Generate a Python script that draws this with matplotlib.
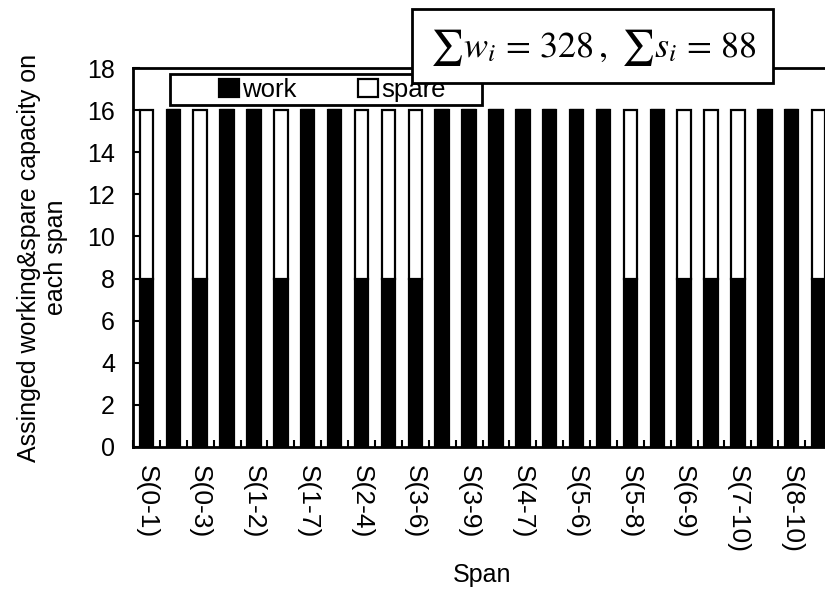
import matplotlib
matplotlib.use("Agg")
import matplotlib.pyplot as plt
from matplotlib.patches import Rectangle
import numpy as np

# Spans of the 11-node network, in the order they appear on the axis
spans = ["S(0-1)", "S(0-2)", "S(0-3)", "S(0-4)", "S(1-2)", "S(1-5)",
         "S(1-7)", "S(2-3)", "S(2-4)", "S(3-4)", "S(3-6)", "S(3-7)",
         "S(3-9)", "S(4-5)", "S(4-7)", "S(4-8)", "S(5-6)", "S(5-7)",
         "S(5-8)", "S(6-7)", "S(6-9)", "S(7-8)", "S(7-10)", "S(8-9)",
         "S(8-10)", "S(9-10)"]
# Assigned working and spare capacity per span
work = [8, 16, 8, 16, 16, 8, 16, 16, 8, 8, 8, 16, 16,
        16, 16, 16, 16, 16, 8, 16, 8, 8, 8, 16, 16, 8]
spare = [8, 0, 8, 0, 0, 8, 0, 0, 8, 8, 8, 0, 0,
         0, 0, 0, 0, 0, 8, 0, 8, 8, 8, 0, 0, 8]
yticks = [0, 2, 4, 6, 8, 10, 12, 14, 16, 18]

plt.rcParams["font.family"] = ["Liberation Sans", "DejaVu Sans"]
plt.rcParams["mathtext.fontset"] = "stix"

W, H = 825, 589
fig = plt.figure(figsize=(W / 100, H / 100), dpi=100)
ax = fig.add_axes([133 / W, 1 - 447 / H, 699 / W, 379 / H])

x = np.arange(len(spans))
lw = 1.6
b_work = ax.bar(x, work, width=0.5, color="black", edgecolor="black",
                linewidth=lw, label="work", zorder=2)
b_spare = ax.bar(x, spare, width=0.5, bottom=work, color="white",
                 edgecolor="black", linewidth=lw, label="spare", zorder=2)

ax.set_xlim(-0.5, len(spans) - 0.5)
ax.set_ylim(0, 18)
ax.set_yticks(yticks)
ax.tick_params(axis="y", direction="in", length=5, width=1.5, pad=13,
               labelsize=18)

# tick marks on category boundaries, labels on every other span
ax.set_xticks(np.arange(len(spans) + 1) - 0.5)
ax.set_xticklabels([])
ax.tick_params(axis="x", which="major", direction="in", length=5, width=1.5)
ax.set_xticks(x[::2], minor=True)
ax.set_xticklabels(spans[::2], minor=True, rotation=-90, fontsize=19,
                   va="top", ha="center")
ax.tick_params(axis="x", which="minor", length=0, pad=13)

for s in ax.spines.values():
    s.set_linewidth(2)

ax.set_xlabel("Span", fontsize=18, va="center")
ax.xaxis.set_label_coords(0.5, -0.338)
ax.set_ylabel("Assinged working&spare capacity on\neach span", fontsize=18,
              va="center", linespacing=1.15, multialignment="center")
ax.yaxis.set_label_coords(-0.13, 0.5)

# legend box and entries
ax.add_patch(Rectangle((170 / W, 1 - 105 / H), 312 / W, 31 / H,
                       transform=fig.transFigure, facecolor="white",
                       edgecolor="black", linewidth=2, clip_on=False,
                       zorder=4))
leg = ax.legend([b_work, b_spare], ["work", "spare"], ncol=2,
                loc="center left", bbox_to_anchor=(206 / W, 1 - 90 / H),
                bbox_transform=fig.transFigure, frameon=False, borderpad=0,
                handlelength=0.78, handleheight=0.75, handletextpad=0.12,
                columnspacing=2.4, fontsize=18.5)
leg.set_zorder(5)

# totals box
fig.patches.append(Rectangle((412 / W, 1 - 83 / H), 361 / W, 74 / H,
                             transform=fig.transFigure, facecolor="white",
                             edgecolor="black", linewidth=2, zorder=6))
fig.text(593 / W, 1 - 47 / H,
         r"$\sum w_i\,=\,328\,,\ \sum s_i\,=\,88$", fontsize=26,
         ha="center", va="center", zorder=7)

fig.savefig("out.png", dpi=100)
